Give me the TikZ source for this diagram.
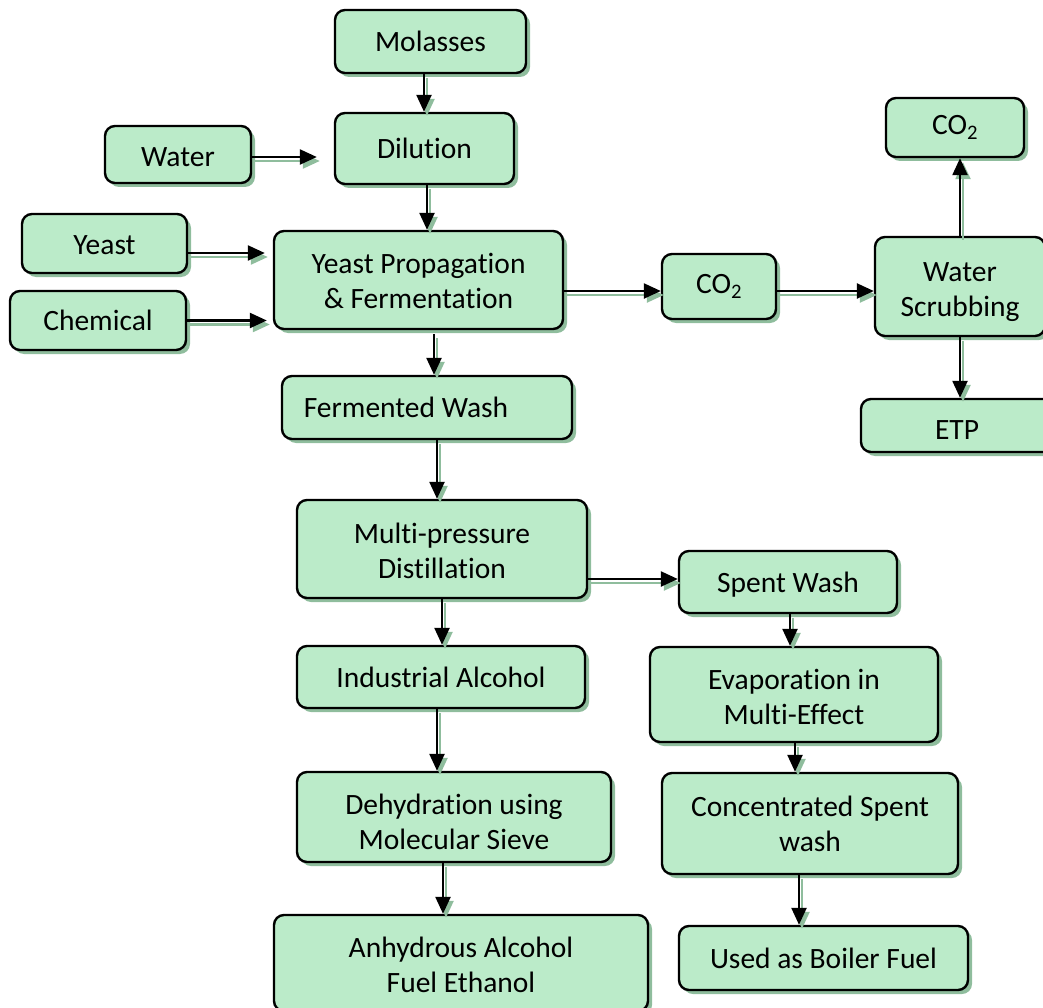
\documentclass[tikz,border=0pt]{standalone}
\usepackage{fontspec}
\setmainfont[Ligatures=NoCommon]{Carlito}
\usetikzlibrary{shadows,arrows.meta}
\definecolor{boxfill}{HTML}{BBEBC9}
\definecolor{shc}{HTML}{8FBD9D}
\tikzset{
  box/.style={draw=black, line width=2.4pt, rounded corners=10pt, fill=boxfill,
    inner sep=0pt, align=center, font=\fontsize{29.5}{35}\selectfont,
    drop shadow={shadow xshift=4pt, shadow yshift=-4pt, fill=shc, opacity=1}},
  arr/.style={line width=2.4pt, draw=black, -{Triangle[length=17pt,width=15pt]}},
  arrsh/.style={line width=2.4pt, draw=shc, -{Triangle[length=17pt,width=15pt]}, shc,
    transform canvas={shift={(3pt,-4pt)}}}
}
\newcommand{\shadedarrow}[3][]{%
  \draw[arrsh,#1] #2 -- #3;
  \draw[arr,#1] #2 -- #3;}
\newcommand{\dn}[2]{\raisebox{-#1}[\height][\depth]{#2}}
\newcommand{\twolines}[3]{\dn{#1}{\begin{tabular}{@{}c@{}}#2\\#3\end{tabular}}}
\begin{document}
\begin{tikzpicture}[x=1pt,y=-1pt]
\useasboundingbox (0,0) rectangle (1043,1008);
\node[box, minimum width=191, minimum height=63] (mol) at (430.5,41.5) {Molasses};
\node[box, minimum width=179, minimum height=71] (dil) at (424.5,148.5) {Dilution};
\node[box, minimum width=146, minimum height=57] (wat) at (178,154.5) {\dn{3pt}{Water}};
\node[box, minimum width=165, minimum height=59] (yst) at (104.5,243.5) {\dn{2pt}{Yeast}};
\node[box, minimum width=176, minimum height=59] (chem) at (98,320.5) {Chemical};
\node[box, minimum width=289, minimum height=98] (ypf) at (418.5,280) {\twolines{4pt}{Yeast Propagation}{\& Fermentation}};
\node[box, minimum width=114, minimum height=65] (co2a) at (719,286.5) {CO\textsubscript{2}};
\node[box, minimum width=170, minimum height=99] (scrub) at (960,286.5) {\twolines{5pt}{Water}{Scrubbing}};
\node[box, minimum width=138, minimum height=59] (co2b) at (955,127.5) {CO\textsubscript{2}};
\node[box, minimum width=192, minimum height=53] (etp) at (957,425.5) {\dn{5pt}{ETP}};
\node[box, minimum width=290, minimum height=63] (fw) at (427,407.5) {Fermented Wash\hspace*{42pt}};
\node[box, minimum width=290, minimum height=98] (mpd) at (442,549) {\twolines{5pt}{Multi-pressure}{Distillation}};
\node[box, minimum width=218, minimum height=62] (sw) at (788,582) {\dn{3pt}{Spent Wash}};
\node[box, minimum width=288, minimum height=62] (ia) at (441,677) {Industrial Alcohol};
\node[box, minimum width=288, minimum height=95] (evap) at (794,694.5) {\twolines{5.5pt}{Evaporation in}{Multi-Effect}};
\node[box, minimum width=314, minimum height=90] (dehy) at (454,817) {\twolines{8pt}{Dehydration using}{Molecular Sieve}};
\node[box, minimum width=296, minimum height=101] (conc) at (810,823.5) {Concentrated Spent\\wash};
\node[box, minimum width=374, minimum height=96] (anh) at (461,963) {\twolines{5pt}{Anhydrous Alcohol}{Fuel Ethanol}};
\node[box, minimum width=289, minimum height=64] (boil) at (823.5,958) {Used as Boiler Fuel};
% vertical arrows
\shadedarrow{([xshift=-6.5pt]mol.south)}{([xshift=-6.5pt]mol.south |- dil.north)}
\shadedarrow{([xshift=2.5pt]dil.south)}{([xshift=2.5pt]dil.south |- ypf.north)}
\shadedarrow{([xshift=15.5pt,yshift=-4pt]ypf.south)}{([xshift=15.5pt]ypf.south |- fw.north)}
\shadedarrow{([xshift=10pt]fw.south)}{([xshift=10pt]fw.south |- mpd.north)}
\shadedarrow{(mpd.south)}{(mpd.south |- ia.north)}
\shadedarrow{([xshift=-4pt]ia.south)}{([xshift=-4pt]ia.south |- dehy.north)}
\shadedarrow{([xshift=-11pt]dehy.south)}{([xshift=-11pt]dehy.south |- anh.north)}
\shadedarrow{([xshift=2pt]sw.south)}{([xshift=2pt]sw.south |- evap.north)}
\shadedarrow{([xshift=1pt]evap.south)}{([xshift=1pt]evap.south |- conc.north)}
\shadedarrow{([xshift=-11pt]conc.south)}{([xshift=-11pt]conc.south |- boil.north)}
\shadedarrow{(scrub.north)}{(scrub.north |- co2b.south)}
\shadedarrow{(scrub.south)}{(scrub.south |- etp.north)}
% horizontal arrows
\shadedarrow[shorten >=17pt]{([yshift=-2.5pt]wat.east)}{([yshift=-2.5pt]wat.east -| dil.west)}
\shadedarrow[shorten >=8pt]{([yshift=-9.5pt]yst.east)}{([yshift=-9.5pt]yst.east -| ypf.west)}
\shadedarrow[shorten >=6pt]{(chem.east)}{(chem.east -| ypf.west)}
\shadedarrow{([yshift=-11pt]ypf.east)}{([yshift=-11pt]ypf.east -| co2a.west)}
\shadedarrow{([yshift=-4.5pt]co2a.east)}{([yshift=-4.5pt]co2a.east -| scrub.west)}
\shadedarrow{([yshift=-30pt]mpd.east)}{([yshift=-30pt]mpd.east -| sw.west)}
\end{tikzpicture}
\end{document}
